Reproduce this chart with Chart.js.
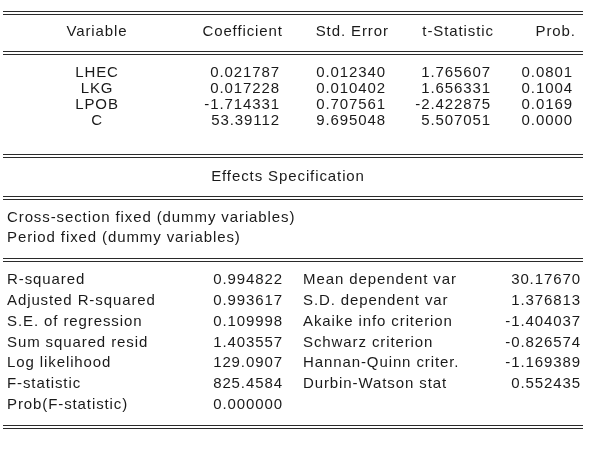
<!DOCTYPE html>
<html>
<head>
<meta charset="utf-8">
<script src="https://cdn.jsdelivr.net/npm/chart.js@4"></script>
<style>
html, body { margin: 0; padding: 0; background: #fff; }
#wrap { width: 606px; height: 457px; }
</style>
</head>
<body>
<div id="wrap"><canvas id="tabla"></canvas></div>
<script>
const encabezados = ["Variable", "Coefficient", "Std. Error", "t-Statistic", "Prob."]
const variables = ["LHEC", "LKG", "LPOB", "C"]
const coeficientes = ["0.021787", "0.017228", "-1.714331", "53.39112"]
const erroresStd = ["0.012340", "0.010402", "0.707561", "9.695048"]
const estadisticosT = ["1.765607", "1.656331", "-2.422875", "5.507051"]
const probabilidades = ["0.0801", "0.1004", "0.0169", "0.0000"]
const tituloEfectos = "Effects Specification"
const efectos = ["Cross-section fixed (dummy variables)", "Period fixed (dummy variables)"]
const etiquetasIzq = ["R-squared", "Adjusted R-squared", "S.E. of regression", "Sum squared resid", "Log likelihood", "F-statistic", "Prob(F-statistic)"]
const valoresIzq = ["0.994822", "0.993617", "0.109998", "1.403557", "129.0907", "825.4584", "0.000000"]
const etiquetasDer = ["Mean dependent var", "S.D. dependent var", "Akaike info criterion", "Schwarz criterion", "Hannan-Quinn criter.", "Durbin-Watson stat"]
const valoresDer = ["30.17670", "1.376813", "-1.404037", "-0.826574", "-1.169389", "0.552435"]

// layout in page pixels, mapped through the hidden linear scales
const colDerecha = [0, 282, 388, 493, 575]
const dobles = [11, 51, 154, 196, 258, 425]
const espacio = 0.9

const dibujarTabla = {
    id: "dibujarTabla",
    afterDraw(chart) {
        const ctx = chart.ctx
        const x = v => chart.scales.x.getPixelForValue(v)
        const y = v => chart.scales.y.getPixelForValue(v)
        ctx.save()
        ctx.strokeStyle = "#2a2a2a"
        ctx.lineWidth = 1
        dobles.forEach(l => {
            [l, l + 3].forEach(yy => {
                ctx.beginPath()
                ctx.moveTo(x(3), y(yy) + 0.5)
                ctx.lineTo(x(583), y(yy) + 0.5)
                ctx.stroke()
            })
        })
        ctx.fillStyle = "#1a1a1a"
        ctx.font = "15px 'Liberation Sans', Arial, sans-serif"
        ctx.letterSpacing = espacio + "px"
        ctx.textBaseline = "middle"
        // right aligned text: compensate trailing letter spacing
        const der = (t, xx, yy) => { ctx.textAlign = "right"; ctx.fillText(t, x(xx) + espacio, yy) }

        ctx.textAlign = "center"
        ctx.fillText(encabezados[0], x(97), y(32))
        for (let i = 1; i < encabezados.length; i++) {
            der(encabezados[i], colDerecha[i], y(32))
        }
        const columnas = [coeficientes, erroresStd, estadisticosT, probabilidades]
        variables.forEach((v, r) => {
            const yy = y(73 + r * 16)
            ctx.textAlign = "center"
            ctx.fillText(v, x(97), yy)
            columnas.forEach((col, c) => der(col[r], colDerecha[c + 1] - 3, yy))
        })

        ctx.textAlign = "center"
        ctx.fillText(tituloEfectos, x(288), y(177))
        ctx.textAlign = "left"
        efectos.forEach((t, r) => ctx.fillText(t, x(7), y(218 + r * 20)))

        etiquetasIzq.forEach((t, r) => {
            const yy = y(280 + r * 20.8)
            ctx.textAlign = "left"
            ctx.fillText(t, x(7), yy)
            der(valoresIzq[r], 282, yy)
        })
        etiquetasDer.forEach((t, r) => {
            const yy = y(280 + r * 20.8)
            ctx.textAlign = "left"
            ctx.fillText(t, x(303), yy)
            der(valoresDer[r], 580, yy)
        })
        ctx.restore()
    }
}

new Chart(document.querySelector("#tabla"), {
    type: "scatter",
    data: { datasets: [{ data: [] }] },
    options: {
        responsive: true,
        maintainAspectRatio: false,
        animation: false,
        layout: { padding: 0 },
        plugins: { legend: { display: false }, tooltip: { enabled: false } },
        scales: {
            x: { type: "linear", min: 0, max: 606, display: false },
            y: { type: "linear", min: 0, max: 457, reverse: true, display: false }
        }
    },
    plugins: [dibujarTabla]
})
</script>
</body>
</html>
